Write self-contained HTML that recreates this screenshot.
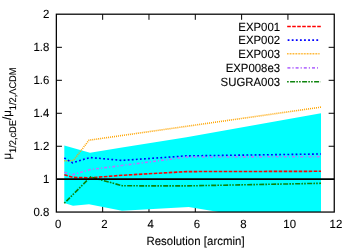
<!DOCTYPE html>
<html><head><meta charset="utf-8">
<style>
html,body{margin:0;padding:0;background:#fff;}
svg{display:block;will-change:transform}
text{text-rendering:geometricPrecision;font-family:"Liberation Sans",sans-serif;font-size:11.4px;fill:#000;stroke:#000;stroke-width:0.1px}
</style></head><body>
<svg width="355" height="249" viewBox="0 0 355 249">
<rect width="355" height="249" fill="#fff"/>
<defs><clipPath id="c"><rect x="56.35" y="14.2" width="277.90" height="197.85"/></clipPath></defs>
<path d="M56.35,47.32h5.6M334.25,47.32h-5.6M56.35,80.30h5.6M334.25,80.30h-5.6M56.35,113.28h5.6M334.25,113.28h-5.6M56.35,146.25h5.6M334.25,146.25h-5.6M102.67,212.05v-5.6M102.67,14.2v5.6M148.98,212.05v-5.6M148.98,14.2v5.6M195.30,212.05v-5.6M195.30,14.2v5.6M241.62,212.05v-5.6M241.62,14.2v5.6M287.93,212.05v-5.6M287.93,14.2v5.6" stroke="#000" stroke-width="1" fill="none"/>
<g clip-path="url(#c)">
<polygon fill="#00ffff" points="64.3,145.5 90,152.7 122,147.5 186.5,137.3 321,113.3 321,229 188.7,207 122,210.8 89,204.2 73,205.8 64.3,203"/>
</g>
<g fill="none" stroke-width="1.6">
<polyline stroke="#ffa500" stroke-dasharray="1,1" points="64.3,160.8 73.4,160.5 89,140.2 321,107.15"/>
<polyline stroke="#0000ff" stroke-dasharray="1.8,2.3" points="64.3,158 72.5,162.8 90,157.5 122,160.4 186.5,155.9 321,154"/>
<polyline stroke="#b874ff" stroke-dasharray="3,2,1.2,2" points="64.3,172.2 73,174.6 90,169.6 122,165.5 186.5,157.1 321,156.6"/>
<polyline stroke="#ff0000" stroke-dasharray="3.6,1.4" points="64.3,174.7 72.5,177.3 90,177.8 122,175.3 186.5,171.6 321,171.3"/>
<polyline stroke="#0c840c" stroke-dasharray="5,1.2,1.6,1.2,1.6,1.4" stroke-dashoffset="9" points="64.3,203.3 90.5,177 122.5,185.8 186.5,185.9 321,183.3"/>
</g>
<line x1="56.35" y1="179.1" x2="334.25" y2="179.1" stroke="#000" stroke-width="1.6"/>
<rect x="56.35" y="14.2" width="277.90" height="197.85" stroke="#000" stroke-width="1.25" fill="none"/>
<text transform="translate(49.30 18.30) scale(1 1.045)" text-anchor="end">2</text>
<text transform="translate(49.30 51.27) scale(1 1.045)" text-anchor="end">1.8</text>
<text transform="translate(49.30 84.25) scale(1 1.045)" text-anchor="end">1.6</text>
<text transform="translate(49.30 117.23) scale(1 1.045)" text-anchor="end">1.4</text>
<text transform="translate(49.30 150.20) scale(1 1.045)" text-anchor="end">1.2</text>
<text transform="translate(49.30 183.18) scale(1 1.045)" text-anchor="end">1</text>
<text transform="translate(49.30 216.15) scale(1 1.045)" text-anchor="end">0.8</text>
<text transform="translate(58.05 227.80) scale(1 1.045)" text-anchor="middle">0</text>
<text transform="translate(104.37 227.80) scale(1 1.045)" text-anchor="middle">2</text>
<text transform="translate(150.68 227.80) scale(1 1.045)" text-anchor="middle">4</text>
<text transform="translate(197.00 227.80) scale(1 1.045)" text-anchor="middle">6</text>
<text transform="translate(243.32 227.80) scale(1 1.045)" text-anchor="middle">8</text>
<text transform="translate(289.63 227.80) scale(1 1.045)" text-anchor="middle">10</text>
<text transform="translate(335.95 227.80) scale(1 1.045)" text-anchor="middle">12</text>
<text transform="translate(195.50 245.20) scale(1 1.045)" text-anchor="middle" textLength="98.2">Resolution [arcmin]</text>
<text transform="translate(11.3 159.6) rotate(-90) scale(1 1.045)">μ<tspan font-size="9.29" dy="4.2">1/2,cDE</tspan><tspan dy="-4.2">/μ</tspan><tspan font-size="9.29" dy="4.2">1/2,ΛCDM</tspan></text>
<text transform="translate(280.10 30.55) scale(1 1.045)" text-anchor="end">EXP001</text>
<text transform="translate(280.10 44.00) scale(1 1.045)" text-anchor="end">EXP002</text>
<text transform="translate(280.10 57.80) scale(1 1.045)" text-anchor="end">EXP003</text>
<text transform="translate(280.10 71.70) scale(1 1.045)" text-anchor="end">EXP008e3</text>
<text transform="translate(280.10 85.50) scale(1 1.045)" text-anchor="end">SUGRA003</text>
<g fill="none" stroke-width="1.6">
<line x1="287.2" x2="321" y1="26.5" y2="26.5" stroke="#ff0000" stroke-dasharray="3.6,1.4"/>
<line x1="287.65" x2="318.6" y1="40.1" y2="40.1" stroke="#0000ff" stroke-dasharray="1.8,2.3"/>
<line x1="287" x2="319.8" y1="53.8" y2="53.8" stroke="#ffa500" stroke-dasharray="0.77,0.77"/>
<line x1="287.4" x2="318" y1="67.9" y2="67.9" stroke="#b874ff" stroke-dasharray="3,2,1.2,2"/>
<line x1="287.1" x2="320.5" y1="81.7" y2="81.7" stroke="#0c840c" stroke-dasharray="5,1.2,1.6,1.2,1.6,1.4" stroke-dashoffset="9"/>
</g>
</svg>
</body></html>
